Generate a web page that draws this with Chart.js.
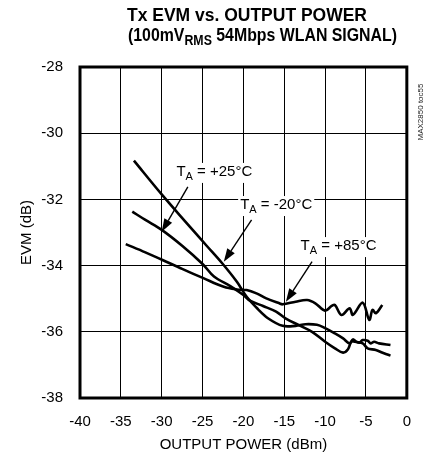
<!DOCTYPE html>
<html>
<head>
<meta charset="utf-8">
<script src="https://cdn.jsdelivr.net/npm/chart.js@4.4.1/dist/chart.umd.min.js"></script>
<style>
html, body { margin: 0; padding: 0; background: #fff; }
#wrap { width: 426px; height: 462px; position: relative; }
</style>
</head>
<body>
<div id="wrap"><canvas id="evmChart"></canvas></div>
<script>
// ==================== DATA ====================
const xTicks = [-40, -35, -30, -25, -20, -15, -10, -5, 0];
const yTicks = [-38, -36, -34, -32, -30, -28];

// TA = -20°C
const pwrM20 = [-33.4, -30, -27, -24.5, -22.6, -20.8, -19.6, -18.2, -17, -15.2, -13.6, -12.4, -11, -10, -8.8, -7.8, -7, -6.6, -6.2, -5.8, -5.4, -4.8, -4.4, -4, -3.4, -2];
const evmM20 = [-30.83, -31.85, -32.7, -33.4, -33.93, -34.49, -34.94, -35.32, -35.59, -35.82, -35.82, -35.77, -35.79, -35.89, -36.05, -36.2, -36.35, -36.23, -36.3, -36.33, -36.25, -36.27, -36.35, -36.3, -36.35, -36.4];

// TA = +25°C
const pwrP25 = [-33.6, -32, -30, -27.5, -25, -23.6, -21.6, -20, -19.2, -17.6, -16, -14.8, -13.2, -11.6, -10, -8.8, -7.8, -7.2, -6.8, -6.4, -5.4, -4.8, -3.8, -2.8, -2];
const evmP25 = [-32.37, -32.62, -32.92, -33.4, -33.95, -34.33, -34.62, -34.89, -35.06, -35.22, -35.39, -35.6, -35.8, -36.0, -36.3, -36.5, -36.63, -36.53, -36.3, -36.3, -36.35, -36.5, -36.55, -36.65, -36.72];

// TA = +85°C
const pwrP85 = [-34.4, -32, -29.9, -27.5, -24.9, -22.4, -20.8, -19.6, -18.4, -17.2, -15.6, -15.2, -13.6, -12.2, -11.2, -10, -9.2, -8.8, -8, -7, -6.6, -5.4, -4.6, -4.2, -3.8, -3];
const evmP85 = [-33.35, -33.6, -33.83, -34.1, -34.38, -34.64, -34.72, -34.74, -34.84, -34.99, -35.14, -35.17, -35.09, -35.04, -35.14, -35.36, -35.22, -35.19, -35.49, -35.29, -35.49, -35.12, -35.64, -35.34, -35.44, -35.19];

// ==================== LABELS ====================
// label left/centre, arrow start and arrow tip in data units
const notes = [
    { temp: ' = +25°C', at: [-28.2, -31.17], from: [-26.8, -31.62], to: [-30, -32.98] },
    { temp: ' = -20°C', at: [-20.4, -32.17], from: [-19, -32.62], to: [-22.4, -33.88] },
    { temp: ' = +85°C', at: [-13.0, -33.41], from: [-11.6, -33.88], to: [-14.8, -35.09] }
];

const FONT = '"Liberation Sans", Arial, sans-serif';

function pts(xs, ys) { return xs.map((x, i) => ({ x: x, y: ys[i] })); }

function line(label, xs, ys) {
    return { label: label, data: pts(xs, ys), borderColor: '#000', borderWidth: 2.6, pointRadius: 0, tension: 0.35, fill: false };
}

function arrow(ctx, x1, y1, x2, y2) {
    const a = Math.atan2(y2 - y1, x2 - x1);
    const len = 13, half = 4.5;
    const bx = x2 - len * Math.cos(a), by = y2 - len * Math.sin(a);
    ctx.beginPath();
    ctx.moveTo(x1, y1);
    ctx.lineTo(bx, by);
    ctx.lineWidth = 1.4;
    ctx.stroke();
    ctx.beginPath();
    ctx.moveTo(x2, y2);
    ctx.lineTo(bx + half * Math.sin(a), by - half * Math.cos(a));
    ctx.lineTo(bx - half * Math.sin(a), by + half * Math.cos(a));
    ctx.closePath();
    ctx.fill();
}

const decorPlugin = {
    id: 'decor',
    afterDatasetsDraw(chart) {
        const ctx = chart.ctx;
        const xs = chart.scales.x, ys = chart.scales.y;
        const a = chart.chartArea;
        ctx.save();
        ctx.fillStyle = '#000';
        ctx.strokeStyle = '#000';

        // frame
        ctx.lineWidth = 3;
        ctx.strokeRect(a.left, a.top, a.right - a.left, a.bottom - a.top);

        // curve labels
        notes.forEach(n => {
            const px = xs.getPixelForValue(n.at[0]);
            const py = ys.getPixelForValue(n.at[1]);
            ctx.font = '15px ' + FONT;
            ctx.textBaseline = 'middle';
            ctx.textAlign = 'left';
            const wT = ctx.measureText('T').width;
            ctx.font = '11px ' + FONT;
            const wA = ctx.measureText('A').width;
            ctx.font = '15px ' + FONT;
            const wR = ctx.measureText(n.temp).width;
            // white box so gridlines don't run through the text
            ctx.fillStyle = '#fff';
            ctx.fillRect(px - 2, py - 9, wT + wA + wR + 4, 20);
            ctx.fillStyle = '#000';
            ctx.fillText('T', px, py);
            ctx.font = '11px ' + FONT;
            ctx.fillText('A', px + wT, py + 5);
            ctx.font = '15px ' + FONT;
            ctx.fillText(n.temp, px + wT + wA, py);
            arrow(ctx, xs.getPixelForValue(n.from[0]), ys.getPixelForValue(n.from[1]),
                xs.getPixelForValue(n.to[0]), ys.getPixelForValue(n.to[1]));
        });

        // title (bold, fitted to width)
        ctx.textBaseline = 'alphabetic';
        ctx.textAlign = 'left';
        ctx.font = 'bold 18px ' + FONT;
        let w1 = ctx.measureText('Tx EVM vs. OUTPUT POWER').width;
        ctx.save();
        ctx.translate(127, 21);
        ctx.scale(240 / w1, 1);
        ctx.fillText('Tx EVM vs. OUTPUT POWER', 0, 0);
        ctx.restore();

        const p1 = '(100mV', p2 = 'RMS', p3 = ' 54Mbps WLAN SIGNAL)';
        ctx.font = 'bold 18px ' + FONT;
        const wa = ctx.measureText(p1).width, wc = ctx.measureText(p3).width;
        ctx.font = 'bold 14px ' + FONT;
        const wb = ctx.measureText(p2).width;
        ctx.save();
        ctx.translate(128, 41);
        ctx.scale(269 / (wa + wb + wc), 1);
        ctx.font = 'bold 18px ' + FONT;
        ctx.fillText(p1, 0, 0);
        ctx.font = 'bold 14px ' + FONT;
        ctx.fillText(p2, wa, 4);
        ctx.font = 'bold 18px ' + FONT;
        ctx.fillText(p3, wa + wb, 0);
        ctx.restore();

        // figure id
        ctx.save();
        ctx.translate(421, 112);
        ctx.rotate(-Math.PI / 2);
        ctx.font = '8px ' + FONT;
        ctx.textAlign = 'center';
        ctx.textBaseline = 'middle';
        ctx.fillStyle = '#222';
        ctx.fillText('MAX2850 toc55', 0, 0);
        ctx.restore();

        ctx.restore();
    }
};

new Chart(document.getElementById('evmChart').getContext('2d'), {
    type: 'line',
    data: {
        datasets: [
            line('TA = -20°C', pwrM20, evmM20),
            line('TA = +25°C', pwrP25, evmP25),
            line('TA = +85°C', pwrP85, evmP85)
        ]
    },
    options: {
        responsive: true,
        maintainAspectRatio: false,
        animation: false,
        events: [],
        layout: { padding: { top: 67, right: 13, left: 0, bottom: 0 } },
        plugins: { legend: { display: false }, title: { display: false }, tooltip: { enabled: false } },
        scales: {
            x: {
                type: 'linear',
                min: -40, max: 0,
                afterBuildTicks: s => { s.ticks = xTicks.map(v => ({ value: v })); },
                afterFit: s => { s.height = 64; },
                grid: { color: '#000', lineWidth: 1, drawTicks: false },
                border: { display: false },
                ticks: { color: '#000', padding: 15, font: { family: FONT, size: 15 }, maxRotation: 0 },
                title: { display: true, text: 'OUTPUT POWER (dBm)', color: '#000', font: { family: FONT, size: 15 }, padding: { top: 0, bottom: 8 } }
            },
            y: {
                type: 'linear',
                min: -38, max: -28,
                afterBuildTicks: s => { s.ticks = yTicks.map(v => ({ value: v })); },
                afterFit: s => { s.width = 80; },
                grid: { color: '#000', lineWidth: 1, drawTicks: false },
                border: { display: false },
                ticks: { color: '#000', padding: 17, font: { family: FONT, size: 15 } },
                title: { display: true, text: 'EVM (dB)', color: '#000', font: { family: FONT, size: 15 }, padding: { top: 18, bottom: 0 } }
            }
        }
    },
    plugins: [decorPlugin]
});
</script>
</body>
</html>
